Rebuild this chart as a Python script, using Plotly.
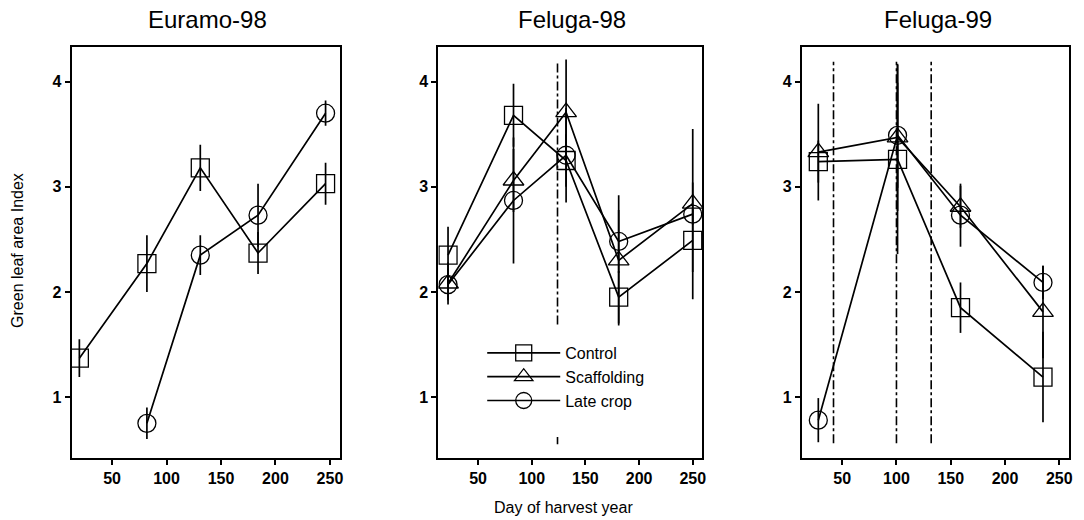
import plotly.graph_objects as go

# ---------------- data ----------------
panel_titles = ["Euramo-98", "Feluga-98", "Feluga-99"]
series_names = ["Control", "Scaffolding", "Late crop"]

# Euramo-98
e98_ctrl_x = [20, 82, 131, 184, 246]
e98_ctrl_y = [1.37, 2.27, 3.18, 2.37, 3.03]
e98_ctrl_err = [0.18, 0.27, 0.22, 0.20, 0.20]
e98_late_x = [82, 131, 184, 246]
e98_late_y = [0.75, 2.35, 2.73, 3.70]
e98_late_err = [0.15, 0.19, 0.30, 0.12]

# Feluga-98
f98_x = [22, 83, 132, 181, 250]
f98_ctrl_y = [2.35, 3.68, 3.25, 1.95, 2.49]
f98_ctrl_err = [0.27, 0.30, 0.25, 0.25, 0.30]
f98_scaf_y = [2.08, 3.06, 3.71, 2.30, 2.84]
f98_scaf_err = [0.20, 0.30, 0.50, 0.62, 0.20]
f98_late_y = [2.07, 2.87, 3.30, 2.48, 2.74]
f98_late_err = [0.15, 0.60, 0.45, 0.30, 0.81]
f98_vline_x = [124]
f98_vline_segments = [[1.69, 4.20], [0.55, 0.62]]

# Feluga-99
f99_x = [28, 101, 159, 235]
f99_ctrl_y = [3.24, 3.26, 1.85, 1.19]
f99_ctrl_err = [0.20, 0.90, 0.24, 0.43]
f99_scaf_y = [3.33, 3.47, 2.81, 1.81]
f99_scaf_err = [0.46, 0.70, 0.20, 0.44]
f99_late_y = [0.78, 3.49, 2.73, 2.09]
f99_late_err = [0.21, 0.50, 0.30, 0.16]
f99_vline_x = [42, 100, 132]
f99_vline_y = [0.56, 4.19]

x_ticks = [50, 100, 150, 200, 250]
y_ticks = [1, 2, 3, 4]
x_range = [13, 259]
y_range = [0.42, 4.33]

# ---------------- styling ----------------
symbols = {"Control": "square-open", "Scaffolding": "triangle-up-open", "Late crop": "circle-open"}
FONT = "Liberation Sans, Arial, sans-serif"
W, H = 1084, 520
x_domains = [[72 / W, 341 / W], [440 / W, 705 / W], [805 / W, 1073 / W]]
y_domain = [(H - 458) / H, (H - 47) / H]

fig = go.Figure()


def add_series(k, name, xs, ys, err, legend=False):
    fig.add_trace(go.Scatter(
        x=xs, y=ys, name=name, mode="lines+markers",
        xaxis=f"x{k if k > 1 else ''}", yaxis=f"y{k if k > 1 else ''}",
        line=dict(color="black", width=1.7),
        marker=dict(symbol=symbols[name], size=18, color="black",
                    line=dict(color="black", width=1.3)),
        error_y=dict(type="data", array=err, visible=True, width=0,
                     thickness=1.7, color="black"),
        showlegend=legend, legendgroup=name,
    ))


def add_vline(k, x, y0, y1):
    fig.add_trace(go.Scatter(
        x=[x, x], y=[y0, y1], mode="lines",
        xaxis=f"x{k if k > 1 else ''}", yaxis=f"y{k if k > 1 else ''}",
        line=dict(color="black", width=1.6, dash="dashdot"),
        showlegend=False, hoverinfo="skip",
    ))


# panel 1
add_series(1, "Control", e98_ctrl_x, e98_ctrl_y, e98_ctrl_err)
add_series(1, "Late crop", e98_late_x, e98_late_y, e98_late_err)

# panel 2
for xv in f98_vline_x:
    for seg in f98_vline_segments:
        add_vline(2, xv, seg[0], seg[1])
add_series(2, "Control", f98_x, f98_ctrl_y, f98_ctrl_err, legend=True)
add_series(2, "Scaffolding", f98_x, f98_scaf_y, f98_scaf_err, legend=True)
add_series(2, "Late crop", f98_x, f98_late_y, f98_late_err, legend=True)

# panel 3
for xv in f99_vline_x:
    add_vline(3, xv, f99_vline_y[0], f99_vline_y[1])
add_series(3, "Control", f99_x, f99_ctrl_y, f99_ctrl_err)
add_series(3, "Scaffolding", f99_x, f99_scaf_y, f99_scaf_err)
add_series(3, "Late crop", f99_x, f99_late_y, f99_late_err)

axis_common = dict(showline=True, linecolor="black", linewidth=2.2, mirror=True,
                   ticks="outside", ticklen=5, tickwidth=1.5, tickcolor="black",
                   showgrid=False, zeroline=False,
                   tickfont=dict(family=FONT, size=16, color="black", weight="bold"))

layout = dict(
    width=W, height=H, margin=dict(l=0, r=0, t=0, b=0),
    plot_bgcolor="white", paper_bgcolor="white",
    font=dict(family=FONT, color="black"),
    showlegend=True,
    legend=dict(x=484 / W, y=(H - 336) / H, xanchor="left", yanchor="top",
                bgcolor="rgba(255,255,255,0)", font=dict(family=FONT, size=16),
                itemwidth=73, tracegroupgap=0),
)
for i in range(3):
    sx = "" if i == 0 else str(i + 1)
    layout[f"xaxis{sx}"] = dict(axis_common, domain=x_domains[i], range=x_range,
                                tickvals=x_ticks, anchor=f"y{sx}")
    layout[f"yaxis{sx}"] = dict(axis_common, domain=y_domain, range=y_range,
                                tickvals=y_ticks, anchor=f"x{sx}")
fig.update_layout(**layout)

annotations = []
for i, t in enumerate(panel_titles):
    annotations.append(dict(text=t, x=sum(x_domains[i]) / 2 + 2 / W, y=(H - 20) / H,
                            xref="paper", yref="paper", showarrow=False,
                            xanchor="center", yanchor="middle",
                            font=dict(family=FONT, size=24, color="black")))
annotations.append(dict(text="Green leaf area Index", x=18 / W, y=(H - 250) / H,
                        xref="paper", yref="paper", showarrow=False, textangle=-90,
                        xanchor="center", yanchor="middle",
                        font=dict(family=FONT, size=16, color="black")))
annotations.append(dict(text="Day of harvest year", x=566 / W, y=(H - 507) / H,
                        xref="paper", yref="paper", showarrow=False,
                        xanchor="center", yanchor="middle",
                        font=dict(family=FONT, size=16, color="black")))
fig.update_layout(annotations=annotations)

fig.write_html("out.html")
